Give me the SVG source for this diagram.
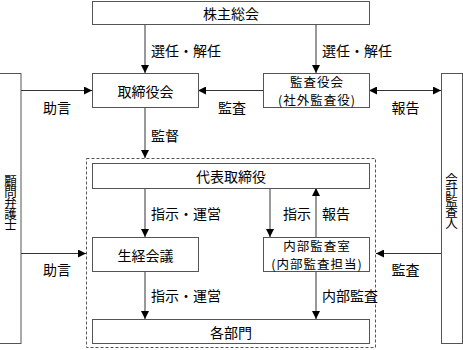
<svg xmlns="http://www.w3.org/2000/svg" width="463" height="350" viewBox="0 0 463 350">
<style>
.box{fill:#fff;stroke:#555;stroke-width:1}
.dash{fill:none;stroke:#555;stroke-width:1;stroke-dasharray:3,2}
.t{font-family:"Noto Sans CJK JP","Noto Sans",sans-serif;font-size:14px;fill:#000;dominant-baseline:central}
.c{text-anchor:middle}
.t2{font-size:12.5px;letter-spacing:1px}
.v{font-family:"Noto Sans CJK JP","Noto Sans",sans-serif;font-size:12.5px;fill:#000;text-anchor:middle;writing-mode:vertical-rl;letter-spacing:-1.5px}
.ln{fill:none;stroke:#333;stroke-width:1}
</style>
<defs>
<marker id="ah" viewBox="0 0 10 10" refX="10" refY="5" markerWidth="8" markerHeight="8" markerUnits="userSpaceOnUse" orient="auto-start-reverse">
<path d="M0,0 L10,5 L0,10 Z" fill="#000"/>
</marker>
</defs>
<rect class="dash" x="86.5" y="158.5" width="289" height="189"/>
<g id="connectors">
<path class="ln" d="M145,24 V73" marker-end="url(#ah)"/>
<path class="ln" d="M316,24 V73" marker-end="url(#ah)"/>
<path class="ln" d="M21,90.5 H92" marker-end="url(#ah)"/>
<path class="ln" d="M263,90.5 H198" marker-end="url(#ah)"/>
<path class="ln" d="M369,90.5 H441" marker-start="url(#ah)" marker-end="url(#ah)"/>
<path class="ln" d="M145,107 V158" marker-end="url(#ah)"/>
<path class="ln" d="M145,188 V237" marker-end="url(#ah)"/>
<path class="ln" d="M270,188 V237" marker-end="url(#ah)"/>
<path class="ln" d="M316,237 V188" marker-end="url(#ah)"/>
<path class="ln" d="M21,253.5 H86" marker-end="url(#ah)"/>
<path class="ln" d="M441,253.5 H376" marker-end="url(#ah)"/>
<path class="ln" d="M145,271 V319" marker-end="url(#ah)"/>
<path class="ln" d="M316,271 V319" marker-end="url(#ah)"/>
<text class="t" x="151" y="50">選任・解任</text>
<text class="t" x="322" y="50">選任・解任</text>
<text class="t c" x="57" y="107">助言</text>
<text class="t c" x="232" y="107">監査</text>
<text class="t c" x="405.5" y="107">報告</text>
<text class="t" x="151" y="135">監督</text>
<text class="t" x="151" y="213">指示・運営</text>
<text class="t" x="283" y="213">指示</text>
<text class="t" x="322" y="213">報告</text>
<text class="t c" x="57" y="269">助言</text>
<text class="t c" x="405.5" y="269">監査</text>
<text class="t" x="151" y="295">指示・運営</text>
<text class="t" x="322" y="295">内部監査</text>
</g>
<g id="shareholders">
<rect class="box" x="92.5" y="1.5" width="277" height="23"/>
<text class="t c" x="231" y="13">株主総会</text>
</g>
<g id="board">
<rect class="box" x="92.5" y="73.5" width="106" height="34"/>
<text class="t c" x="145.5" y="90.5">取締役会</text>
</g>
<g id="auditors">
<rect class="box" x="263.5" y="73.5" width="106" height="34"/>
<text class="t t2 c" x="317" y="81.4">監査役会</text>
<text class="t t2 c" x="317" y="99.7">(社外監査役)</text>
</g>
<g id="lawyer">
<rect class="box" x="-0.5" y="73.5" width="21.5" height="270"/>
<text class="v" x="10.5" y="202">顧問弁護士</text>
</g>
<g id="accountant">
<rect class="box" x="441.5" y="73.5" width="21" height="270"/>
<text class="v" x="451.5" y="200">会計監査人</text>
</g>
<g id="ceo">
<rect class="box" x="92.5" y="163.5" width="277" height="25"/>
<text class="t c" x="231" y="176">代表取締役</text>
</g>
<g id="committee">
<rect class="box" x="92.5" y="237.5" width="106" height="34"/>
<text class="t c" x="145.5" y="254.5">生経会議</text>
</g>
<g id="internal-audit">
<rect class="box" x="263.5" y="237.5" width="106" height="34"/>
<text class="t t2 c" x="317" y="245.4">内部監査室</text>
<text class="t t2 c" x="317" y="263.7">(内部監査担当)</text>
</g>
<g id="departments">
<rect class="box" x="92.5" y="319.5" width="277" height="24"/>
<text class="t c" x="231" y="331.5">各部門</text>
</g>
</svg>
